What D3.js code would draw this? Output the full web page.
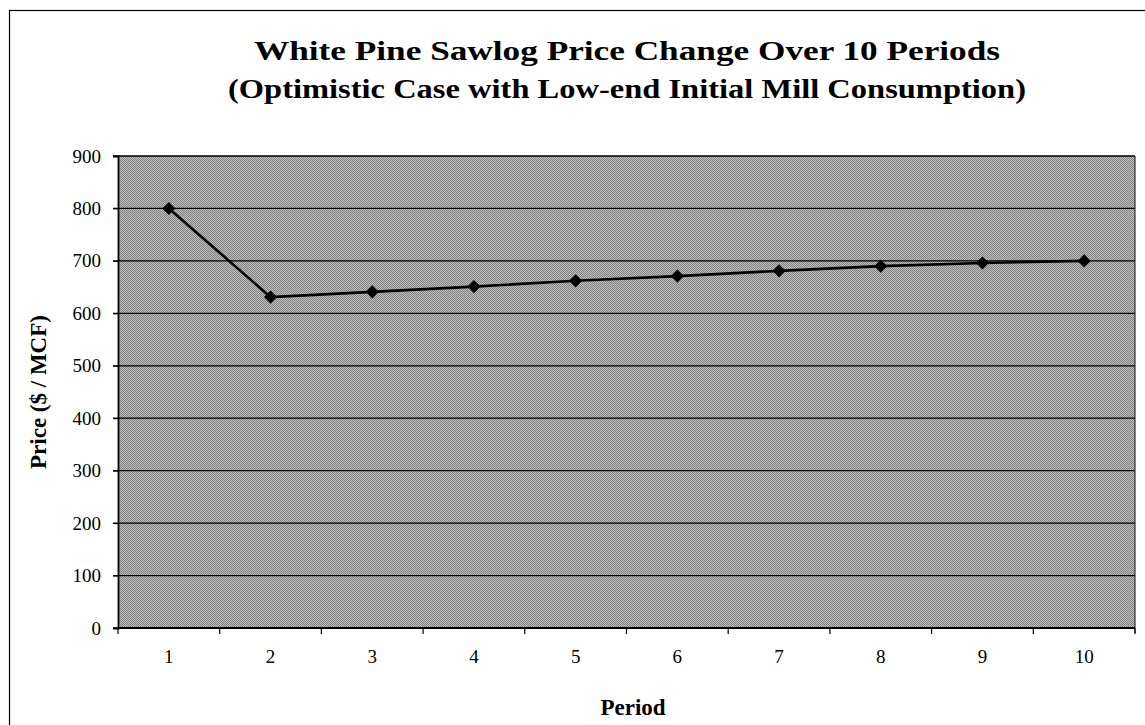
<!DOCTYPE html>
<html><head><meta charset="utf-8">
<script src="https://cdn.jsdelivr.net/npm/d3@7"></script>
<style>body{margin:0;background:#fff;}svg{display:block;}</style>
</head><body>
<script>
const periods = ["1","2","3","4","5","6","7","8","9","10"];
const prices = [800, 631, 641, 651, 662, 671, 681, 690, 696, 700];
const yTicks = [0,100,200,300,400,500,600,700,800,900];
const titleLines = ["White Pine Sawlog Price Change Over 10 Periods","(Optimistic Case with Low-end Initial Mill Consumption)"];
const titleWidths = [746, 798];
const xTitle = "Period";
const yTitle = "Price ($ / MCF)";

const W = 1145, H = 725;
const m = {left:118, right:1135, top:156, bottom:628};
const svg = d3.select("body").append("svg").attr("width",W).attr("height",H);
const font = "'Liberation Serif','Times New Roman',serif";

// outer frame
svg.append("rect").attr("x",9.5).attr("y",10.5).attr("width",W+20).attr("height",H+20)
  .attr("fill","none").attr("stroke","#000").attr("stroke-width",1.2);

const x = d3.scaleBand().domain(periods).range([m.left,m.right]);
const y = d3.scaleLinear().domain([0,900]).range([m.bottom,m.top]);

// dither-like pattern
const defs = svg.append("defs");
const pat = defs.append("pattern").attr("id","dither").attr("width",2).attr("height",2).attr("patternUnits","userSpaceOnUse");
pat.append("rect").attr("width",2).attr("height",2).attr("fill","#c0c0c0");
pat.append("rect").attr("width",1).attr("height",1).attr("fill","#808080");
pat.append("rect").attr("x",1).attr("y",1).attr("width",1).attr("height",1).attr("fill","#808080");

svg.append("rect").attr("x",m.left).attr("y",m.top).attr("width",m.right-m.left).attr("height",m.bottom-m.top)
  .attr("fill","url(#dither)");

// gridlines
svg.append("g").selectAll("line").data(yTicks).join("line")
  .attr("x1",m.left-5).attr("x2",m.right).attr("y1",d=>y(d)).attr("y2",d=>y(d))
  .attr("stroke","#000").attr("stroke-width",1.3);

// right border
svg.append("line").attr("x1",m.right).attr("x2",m.right).attr("y1",m.top).attr("y2",m.bottom+5)
  .attr("stroke","#333").attr("stroke-width",1.2);

// y axis
const yAxis = d3.axisLeft(y).tickValues(yTicks).tickSize(5).tickPadding(12);
const gy = svg.append("g").attr("transform",`translate(${m.left},0)`).call(yAxis);
gy.select(".domain").attr("stroke","#000").attr("stroke-width",1.8);
gy.selectAll("text").attr("font-family",font).attr("font-size",19).attr("fill","#000");

// x axis with ticks between categories
const gx = svg.append("g").attr("transform",`translate(0,${m.bottom})`);
gx.append("line").attr("x1",m.left).attr("x2",m.right).attr("stroke","#000").attr("stroke-width",1.8);
const bounds = periods.map(p=>x(p)).concat([m.right]);
gx.selectAll("line.tk").data(bounds).join("line").attr("class","tk")
  .attr("x1",d=>d).attr("x2",d=>d).attr("y1",0).attr("y2",6).attr("stroke","#000").attr("stroke-width",1.2);
gx.selectAll("text").data(periods).join("text")
  .attr("x",d=>x(d)+x.bandwidth()/2).attr("y",35).attr("text-anchor","middle")
  .attr("font-family",font).attr("font-size",19).text(d=>d);

// line
const line = d3.line().x((d,i)=>x(periods[i])+x.bandwidth()/2).y(d=>y(d));
svg.append("path").datum(prices).attr("d",line).attr("fill","none").attr("stroke","#000").attr("stroke-width",2.6);
svg.append("g").selectAll("path").data(prices).join("path")
  .attr("d",d3.symbol().type(d3.symbolDiamond2).size(110))
  .attr("transform",(d,i)=>`translate(${x(periods[i])+x.bandwidth()/2},${y(d)})`)
  .attr("fill","#000");

// titles
svg.append("g").selectAll("text").data(titleLines).join("text")
  .attr("x",627).attr("y",(d,i)=>60+i*38).attr("text-anchor","middle")
  .attr("textLength",(d,i)=>titleWidths[i]).attr("lengthAdjust","spacingAndGlyphs")
  .attr("font-family",font).attr("font-weight","bold").attr("font-size",28).text(d=>d);
svg.append("text").attr("x",633).attr("y",715).attr("text-anchor","middle")
  .attr("font-family",font).attr("font-weight","bold").attr("font-size",23).text(xTitle);
svg.append("text").attr("transform",`translate(46,${(m.top+m.bottom)/2}) rotate(-90)`).attr("text-anchor","middle")
  .attr("font-family",font).attr("font-weight","bold").attr("font-size",23).text(yTitle);
</script>
</body></html>
